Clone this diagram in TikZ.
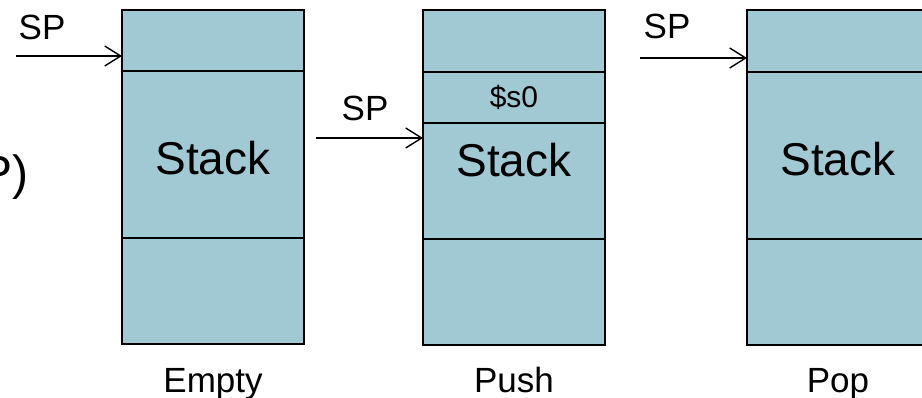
\documentclass[tikz,border=0pt]{standalone}
\usepackage{fontspec}
\setmainfont{Liberation Sans}
\usetikzlibrary{arrows.meta}
\definecolor{stackfill}{RGB}{160,201,211}
\tikzset{
  cell/.style={draw=black, fill=stackfill, line width=2pt, minimum width=182pt,
    inner sep=0pt, outer sep=0pt, anchor=north west},
  ptr/.style={line width=1.4pt, -{Straight Barb[length=16pt,width=20pt,line width=1.4pt]}},
  big/.style={font=\fontsize{46}{46}\selectfont, inner sep=0pt},
  lbl/.style={font=\fontsize{35}{35}\selectfont, inner sep=0pt},
  small/.style={font=\fontsize{30}{30}\selectfont, inner sep=0pt},
}
\begin{document}
\begin{tikzpicture}[x=1pt,y=-1pt]
  \useasboundingbox (0,0) rectangle (922,398);
  \clip (0,0) rectangle (922,398);

  % left margin text
  \node[font=\fontsize{48}{48}\selectfont, inner sep=0pt, anchor=base east] (pp) at (29,190) {P)};

  % Empty stack
  \node[cell, minimum height=61pt]  (e-top) at (122,10) {};
  \node[cell, minimum height=167pt] (e-mid) at (122,71) {};
  \node[cell, minimum height=106pt] (e-bot) at (122,238) {};
  \node[big] (e-txt) at (213,158) {Stack};
  \node[lbl, anchor=base] (e-cap) at (213,392) {Empty};
  \node[lbl] (e-sp) at (42,27) {SP};
  \coordinate (e-from) at (16,56);
  \draw[ptr] (e-from) -- (e-from -| e-top.west);

  % Push
  \node[cell, minimum height=62pt]  (p-top) at (423,10) {};
  \node[cell, minimum height=51pt]  (p-s0)  at (423,72) {};
  \node[cell, minimum height=116pt] (p-mid) at (423,123) {};
  \node[cell, minimum height=106pt] (p-bot) at (423,239) {};
  \node[small] (p-s0t) at (514,97) {\$s0};
  \node[big] (p-txt) at (514,160) {Stack};
  \node[lbl, anchor=base] (p-cap) at (514,392) {Push};
  \node[lbl] (p-sp) at (365,108) {SP};
  \coordinate (p-from) at (316,138);
  \draw[ptr] (p-from) -- (p-from -| p-mid.west);

  % Pop
  \node[cell, minimum height=62pt]  (o-top) at (747,10) {};
  \node[cell, minimum height=167pt] (o-mid) at (747,72) {};
  \node[cell, minimum height=106pt] (o-bot) at (747,239) {};
  \node[big] (o-txt) at (838,159) {Stack};
  \node[lbl, anchor=base] (o-cap) at (838,392) {Pop};
  \node[lbl] (o-sp) at (667,26) {SP};
  \coordinate (o-from) at (640,58);
  \draw[ptr] (o-from) -- (o-from -| o-top.west);
\end{tikzpicture}
\end{document}
